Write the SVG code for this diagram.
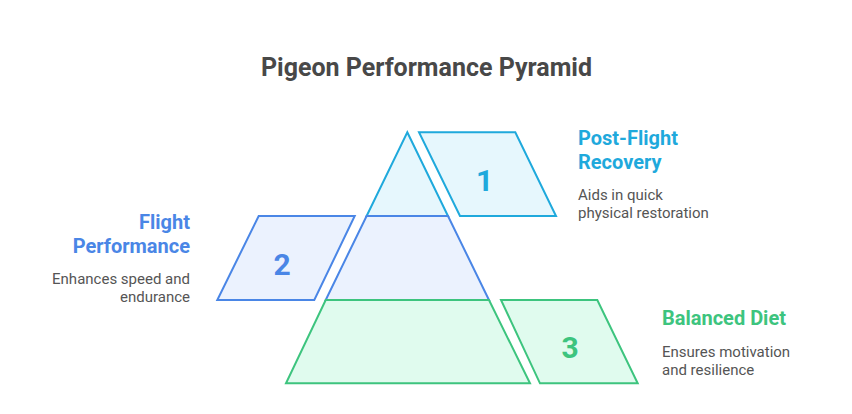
<svg xmlns="http://www.w3.org/2000/svg" width="852" height="414" viewBox="0 0 852 414">
<style>
.t{font-family:Roboto,"Liberation Sans",sans-serif;}
.title{font-size:25px;font-weight:bold;fill:#484848;}
.h{font-size:20px;font-weight:bold;}
.d{font-size:15px;fill:#555555;}
.n{font-size:30px;font-weight:bold;text-anchor:middle;}
.c1{stroke:#1fa9dc;fill:#e6f7fd;}
.c2{stroke:#4a86e6;fill:#ebf2fe;}
.c3{stroke:#3dc47e;fill:#e0fbee;}
.s{stroke-width:2;stroke-linejoin:miter;}
</style>
<rect width="852" height="414" fill="#ffffff"/>
<text class="t title" x="426.5" y="76" text-anchor="middle">Pigeon Performance Pyramid</text>
<g id="pyramid">
<polygon class="c1 s" points="407.3,132.3 448,216 366.6,216"/>
<polygon class="c2 s" points="366.6,216 448,216 489,300 325.7,300"/>
<polygon class="c3 s" points="325.7,300 489,300 530,383.3 286,383.3"/>
</g>
<g id="node1">
<polygon class="c1 s" points="419,132.3 515.3,132.3 556,216 460,216"/>
<text class="t n" x="484.5" y="191" fill="#1fa9dc">1</text>
<text class="t h" x="578" y="145" fill="#1fa9dc">Post-Flight</text>
<text class="t h" x="578" y="168.5" fill="#1fa9dc">Recovery</text>
<text class="t d" x="578" y="200">Aids in quick</text>
<text class="t d" x="578" y="217.5">physical restoration</text>
</g>
<g id="node2">
<polygon class="c2 s" points="258.7,216 354.7,216 314.3,300 217.3,300"/>
<text class="t n" x="282" y="275" fill="#4a86e6">2</text>
<text class="t h" x="190" y="229" text-anchor="end" fill="#4a86e6">Flight</text>
<text class="t h" x="190" y="253" text-anchor="end" fill="#4a86e6">Performance</text>
<text class="t d" x="190" y="284" text-anchor="end">Enhances speed and</text>
<text class="t d" x="190" y="301.5" text-anchor="end">endurance</text>
</g>
<g id="node3">
<polygon class="c3 s" points="501,300 597.3,300 637.7,383.3 540,383.3"/>
<text class="t n" x="570" y="358.3" fill="#3dc47e">3</text>
<text class="t h" x="662" y="325" fill="#3dc47e">Balanced Diet</text>
<text class="t d" x="662" y="357">Ensures motivation</text>
<text class="t d" x="662" y="374.5">and resilience</text>
</g>
<g id="connectors"></g>
</svg>
